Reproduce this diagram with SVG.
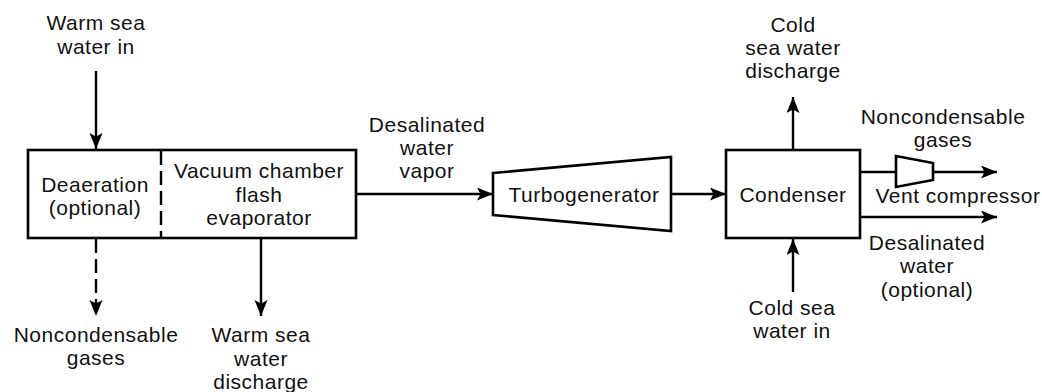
<svg xmlns="http://www.w3.org/2000/svg" width="1042" height="392" viewBox="0 0 1042 392">
<style>
text{font-family:"Liberation Sans",Arial,sans-serif;font-size:21px;letter-spacing:0.5px;fill:#111;text-anchor:middle}
.shape{fill:#fff;stroke:#000;stroke-width:2.6}
.ln{fill:none;stroke:#000;stroke-width:2.4}
.dash{stroke-dasharray:14 6}
</style>
<defs>
<marker id="ah" markerUnits="userSpaceOnUse" markerWidth="18" markerHeight="14" refX="16" refY="6.5" orient="auto">
<path d="M0,0 L16,6.5 L0,13 L3.5,6.5 Z" fill="#000"/>
</marker>
</defs>
<rect width="1042" height="392" fill="#fff"/>
<g id="connectors">
<line class="ln" x1="96" y1="71" x2="96" y2="149" marker-end="url(#ah)"/>
<line class="ln dash" x1="96" y1="239" x2="96" y2="316" marker-end="url(#ah)"/>
<line class="ln" x1="261" y1="239" x2="261" y2="316" marker-end="url(#ah)"/>
<line class="ln" x1="357" y1="194" x2="493" y2="194" marker-end="url(#ah)"/>
<line class="ln" x1="671" y1="194" x2="726" y2="194" marker-end="url(#ah)"/>
<line class="ln" x1="793" y1="149" x2="793" y2="97" marker-end="url(#ah)"/>
<line class="ln" x1="793" y1="292" x2="793" y2="239" marker-end="url(#ah)"/>
<line class="ln" x1="860" y1="172" x2="896" y2="172"/>
<line class="ln" x1="933" y1="172" x2="997" y2="172" marker-end="url(#ah)"/>
<line class="ln" x1="860" y1="217" x2="997" y2="217" marker-end="url(#ah)"/>
</g>
<g id="evaporator">
<rect class="shape" x="28" y="150" width="328" height="88"/>
<line class="ln dash" x1="161" y1="151" x2="161" y2="237" stroke-dasharray="13 7"/>
<text x="95" y="192">Deaeration</text>
<text x="95" y="215">(optional)</text>
<text x="259" y="178">Vacuum chamber</text>
<text x="259" y="201.5">flash</text>
<text x="259" y="225">evaporator</text>
</g>
<g id="turbogenerator">
<polygon class="shape" points="493,173 671,157 671,231 493,215"/>
<text x="584" y="201.5">Turbogenerator</text>
</g>
<g id="condenser">
<rect class="shape" x="726" y="150" width="134" height="88"/>
<text x="793" y="202">Condenser</text>
</g>
<g id="compressor">
<polygon class="shape" points="896,156 933,163 933,180 896,187"/>
</g>
<g id="labels">
<text x="96" y="30">Warm sea</text>
<text x="96" y="53.5">water in</text>
<text x="96" y="342">Noncondensable</text>
<text x="96" y="365">gases</text>
<text x="261" y="342">Warm sea</text>
<text x="261" y="365.5">water</text>
<text x="261" y="389">discharge</text>
<text x="427" y="132">Desalinated</text>
<text x="427" y="155">water</text>
<text x="427" y="178">vapor</text>
<text x="793" y="31.5">Cold</text>
<text x="793" y="54.5">sea water</text>
<text x="793" y="77.5">discharge</text>
<text x="943" y="124">Noncondensable</text>
<text x="943" y="147">gases</text>
<text x="958" y="203">Vent compressor</text>
<text x="927" y="250">Desalinated</text>
<text x="927" y="273">water</text>
<text x="927" y="296.5">(optional)</text>
<text x="792" y="315">Cold sea</text>
<text x="792" y="338">water in</text>
</g>
</svg>
